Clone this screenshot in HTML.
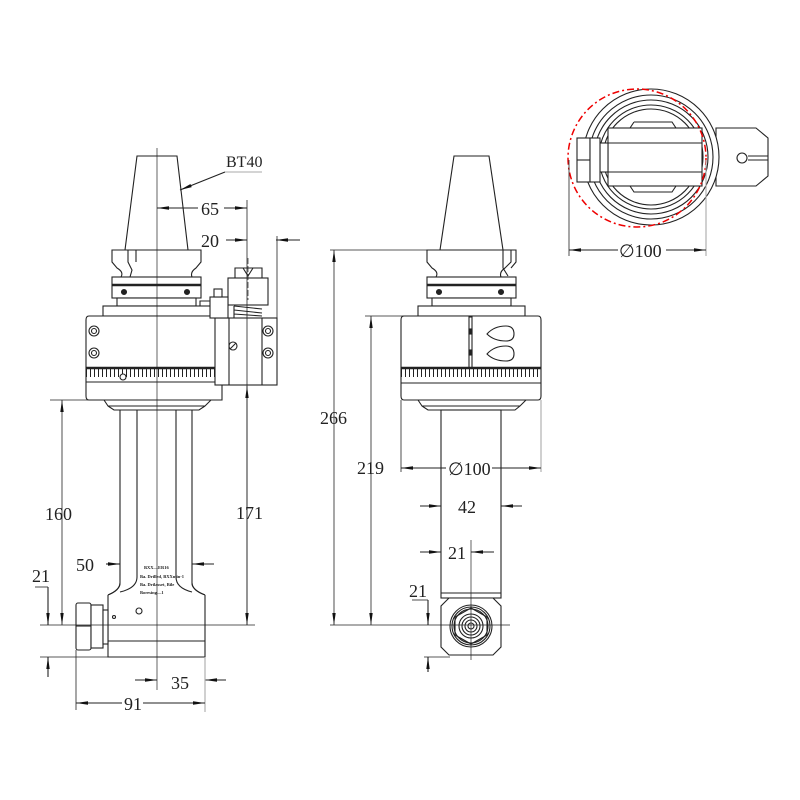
<!DOCTYPE html>
<html><head><meta charset="utf-8"><style>
html,body{margin:0;padding:0;background:#fff}
svg{display:block}
text{font-family:"Liberation Serif",serif;fill:#222}
</style></head><body>
<svg width="800" height="800" viewBox="0 0 800 800" xmlns="http://www.w3.org/2000/svg">
<defs>
<marker id="a" viewBox="0 0 12 6" refX="12" refY="3" markerWidth="12" markerHeight="6" orient="auto-start-reverse" markerUnits="userSpaceOnUse"><path d="M0,1.3 L12,3 L0,4.7z" fill="#111"/></marker>
</defs>
<g fill="none" stroke="#222" stroke-width="1.1">
<!-- ===== LEFT VIEW ===== -->
<path d="M137,156 L177,156 L188,250 L125,250 Z" fill="#fff"/>
<path d="M112,250 H201 V262 L196,268 Q190,272 192,277 H121 Q124,272 117,268 L112,262 Z" fill="#fff"/>
<path d="M128,250 V262 L132,270 L130,277 M136,250 V262"/>
<rect x="112" y="277" width="89" height="21" fill="#fff"/>
<line x1="112" y1="285" x2="201" y2="285" stroke-width="2.5"/>
<circle cx="124" cy="292" r="2.5" fill="#222"/><circle cx="187" cy="292" r="2.5" fill="#222"/>
<rect x="117" y="298" width="79" height="8" fill="#fff"/>
<rect x="103" y="306" width="112" height="10" fill="#fff"/>
<path d="M89,316 H222 V400 H89 Q86,400 86,396 V320 Q86,316 89,316 Z" fill="#fff"/>
<line x1="86" y1="368" x2="222" y2="368" stroke-width="2.5"/>
<line x1="86" y1="373" x2="222" y2="373" stroke-width="8" stroke-dasharray="1 3"/>
<line x1="86" y1="382" x2="222" y2="382"/>
<circle cx="123" cy="377" r="3" fill="#fff"/>
<path d="M104,400 L108,406 H205 L211,400 M108,406 L114,410 H199 L205,406"/>
<!-- column -->
<path d="M120,410 V583 Q120,590 108,595 M192,410 V583 Q192,590 205,595"/>
<path d="M137,410 V577 Q137,588 120,592 M176,410 V577 Q176,588 192,592"/>
<path d="M108,595 V657 H205 V595" fill="#fff"/>
<path d="M120,583 Q120,590 108,595 M192,583 Q192,590 205,595"/>
<line x1="108" y1="641" x2="205" y2="641"/>
<circle cx="139" cy="611" r="3"/>
<circle cx="114" cy="617" r="1.5"/>
<!-- nut -->
<rect x="76" y="603" width="15" height="47" rx="2" fill="#fff"/>
<rect x="91" y="605" width="12" height="43" fill="#fff"/>
<line x1="76" y1="626" x2="91" y2="626"/>
<rect x="103" y="610" width="5" height="34" fill="#fff"/>
<!-- bracket -->
<rect x="215" y="318" width="62" height="67" fill="#fff"/>
<line x1="229" y1="318" x2="229" y2="385"/><line x1="262" y1="318" x2="262" y2="385"/>
<circle cx="94" cy="331" r="5"/><circle cx="94" cy="331" r="2.5"/>
<circle cx="94" cy="353" r="5"/><circle cx="94" cy="353" r="2.5"/>
<circle cx="268" cy="331" r="5"/><circle cx="268" cy="331" r="2.5"/>
<circle cx="268" cy="353" r="5"/><circle cx="268" cy="353" r="2.5"/>
<circle cx="233" cy="346" r="4"/><line x1="230" y1="349" x2="236" y2="343"/>
<rect x="228" y="278" width="40" height="27" fill="#fff"/>
<path d="M235,268 H262 V278 H235 Z M243,268 L248,276 L253,268"/>
<path d="M234,306 L262,309 M234,310 L262,313 M234,314 L262,316 M234,306 V318"/>
<rect x="210" y="297" width="18" height="21" fill="#fff"/>
<rect x="214" y="289" width="8" height="8" fill="#fff"/>
<path d="M200,306 V301 H210"/>
<!-- centerline -->
<line x1="157" y1="148" x2="157" y2="690" stroke-width="0.7"/>
<line x1="248" y1="258" x2="248" y2="300" stroke-width="0.7" stroke-dasharray="6 2"/>
<!-- dims left -->
<line x1="180" y1="190" x2="225" y2="172" marker-start="url(#a)"/>
<line x1="225" y1="172" x2="262" y2="172" stroke="#aaa"/>
<line x1="157" y1="208" x2="198" y2="208" marker-start="url(#a)"/>
<line x1="224" y1="208" x2="247" y2="208" marker-end="url(#a)"/>
<line x1="247" y1="200" x2="247" y2="625" stroke-width="0.8"/>
<line x1="226" y1="240" x2="247" y2="240" marker-end="url(#a)"/>
<line x1="276" y1="240" x2="300" y2="240" marker-start="url(#a)"/>
<line x1="277" y1="236" x2="277" y2="318" stroke-width="0.8"/>
<line x1="247" y1="386" x2="247" y2="625" marker-start="url(#a)" marker-end="url(#a)" stroke-width="0.8"/>
<line x1="50" y1="400" x2="104" y2="400" stroke-width="0.8"/>
<line x1="40" y1="625" x2="255" y2="625" stroke-width="0.8"/>
<line x1="62" y1="400" x2="62" y2="625" marker-start="url(#a)" marker-end="url(#a)" stroke-width="0.8"/>
<line x1="35" y1="587" x2="48" y2="587" stroke-width="0.8"/>
<line x1="48" y1="587" x2="48" y2="625" marker-end="url(#a)"/>
<line x1="48" y1="657" x2="48" y2="677" marker-start="url(#a)"/>
<line x1="40" y1="657" x2="110" y2="657" stroke-width="0.8"/>
<line x1="106" y1="564" x2="120" y2="564" marker-end="url(#a)"/>
<line x1="192" y1="564" x2="214" y2="564" marker-start="url(#a)"/>
<line x1="135" y1="680" x2="157" y2="680" marker-end="url(#a)"/>
<line x1="205" y1="680" x2="226" y2="680" marker-start="url(#a)"/>
<line x1="76" y1="650" x2="76" y2="710" stroke-width="0.8"/>
<line x1="205" y1="657" x2="205" y2="712" stroke="#aaa"/>
<line x1="76" y1="703" x2="122" y2="703" marker-start="url(#a)"/>
<line x1="143" y1="703" x2="205" y2="703" marker-end="url(#a)"/>

<!-- ===== MIDDLE VIEW ===== -->
<path d="M454,156 L489,156 L503,250 L440,250 Z" fill="#fff"/>
<path d="M427,250 H511 V262 L505,268 Q499,272 501,277 H436 Q439,272 432,268 L427,262 Z" fill="#fff"/>
<path d="M503,250 V268 L508,276 M511,250 H516 V262 L511,268"/>
<rect x="427" y="277" width="89" height="21" fill="#fff"/>
<line x1="427" y1="285" x2="516" y2="285" stroke-width="2.5"/>
<circle cx="439" cy="292" r="2.5" fill="#222"/><circle cx="501" cy="292" r="2.5" fill="#222"/>
<rect x="432" y="298" width="79" height="8" fill="#fff"/>
<rect x="418" y="306" width="107" height="10" fill="#fff"/>
<path d="M404,316 H538 Q541,316 541,320 V396 Q541,400 538,400 H404 Q401,400 401,396 V320 Q401,316 404,316 Z" fill="#fff"/>
<rect x="469" y="317" width="3" height="51"/>
<rect x="469" y="329" width="3" height="5" fill="#222"/><rect x="469" y="350" width="3" height="5" fill="#222"/>
<path d="M487,334 Q494,326 506,326 Q514,326 514,334 Q514,341 506,341 Q494,341 487,334 Z"/>
<path d="M487,354 Q494,346 506,346 Q514,346 514,354 Q514,361 506,361 Q494,361 487,354 Z"/>
<line x1="401" y1="368" x2="541" y2="368" stroke-width="2.5"/>
<line x1="401" y1="373" x2="541" y2="373" stroke-width="8" stroke-dasharray="1 3"/>
<line x1="401" y1="383" x2="541" y2="383"/>
<path d="M418,400 L422,406 H520 L526,400 M422,406 L428,410 H515 L520,406"/>
<rect x="441" y="410" width="60" height="188" fill="#fff"/>
<line x1="441" y1="593" x2="501" y2="593"/>
<path d="M449,598 H493 L501,606 V647 L493,655 H449 L441,647 V606 Z" fill="#fff"/>
<circle cx="471" cy="626" r="21"/><circle cx="471" cy="626" r="19"/><circle cx="471" cy="626" r="17"/>
<circle cx="471" cy="626" r="12"/><circle cx="471" cy="626" r="9"/><circle cx="471" cy="626" r="6"/><circle cx="471" cy="626" r="3"/>
<path d="M471,608 L487,617 L487,635 L471,644 L455,635 L455,617 Z"/>
<line x1="471" y1="540" x2="471" y2="660" stroke-width="0.7"/>
<!-- dims middle -->
<line x1="330" y1="250" x2="440" y2="250" stroke-width="0.8"/>
<line x1="365" y1="316" x2="418" y2="316" stroke-width="0.8"/>
<line x1="330" y1="625" x2="510" y2="625" stroke-width="0.8"/>
<line x1="334" y1="250" x2="334" y2="625" marker-start="url(#a)" marker-end="url(#a)" stroke-width="0.8"/>
<line x1="371" y1="316" x2="371" y2="625" marker-start="url(#a)" marker-end="url(#a)" stroke-width="0.8"/>
<line x1="401" y1="400" x2="401" y2="472" stroke-width="0.8"/>
<line x1="541" y1="400" x2="541" y2="472" stroke="#aaa"/>
<line x1="401" y1="468" x2="446" y2="468" marker-start="url(#a)"/>
<line x1="492" y1="468" x2="541" y2="468" marker-end="url(#a)"/>
<line x1="420" y1="506" x2="441" y2="506" marker-end="url(#a)"/>
<line x1="501" y1="506" x2="522" y2="506" marker-start="url(#a)"/>
<line x1="420" y1="552" x2="441" y2="552" marker-end="url(#a)"/>
<line x1="471" y1="552" x2="494" y2="552" marker-start="url(#a)"/>
<line x1="412" y1="600" x2="428" y2="600" stroke-width="0.8"/>
<line x1="428" y1="600" x2="428" y2="625" marker-end="url(#a)"/>
<line x1="428" y1="657" x2="428" y2="672" marker-start="url(#a)"/>
<line x1="424" y1="657" x2="450" y2="657" stroke-width="0.8"/>

<!-- ===== TOP VIEW ===== -->
<path d="M716,128 H756 L768,138 V176 L756,186 H716 Z" fill="#fff"/>
<line x1="748" y1="156" x2="768" y2="156"/><line x1="748" y1="160" x2="768" y2="160"/>
<circle cx="742" cy="158" r="5" fill="#fff"/>
<circle cx="651" cy="157" r="68" fill="#fff"/>
<circle cx="651" cy="157" r="62"/>
<circle cx="651" cy="157" r="57"/>
<circle cx="651" cy="157" r="52"/>
<circle cx="651" cy="157" r="48"/>
<path d="M634,122 H672 L676,128 M634,122 L630,128 M630,186 L634,192 H672 L676,186"/>
<rect x="608" y="128" width="94" height="58" fill="#fff"/>
<line x1="608" y1="143" x2="702" y2="143"/><line x1="608" y1="172" x2="702" y2="172"/>
<rect x="600" y="143" width="8" height="29" fill="#fff"/>
<rect x="577" y="138" width="13" height="44" fill="#fff"/>
<rect x="590" y="138" width="10" height="44" fill="#fff"/>
<line x1="577" y1="160" x2="590" y2="160"/>
<circle cx="637" cy="158" r="69" stroke="#e00" stroke-width="1.5" stroke-dasharray="7 3 2 3"/>
<line x1="569" y1="160" x2="569" y2="256" stroke-width="0.8"/>
<line x1="706" y1="160" x2="706" y2="256" stroke="#aaa"/>
<line x1="569" y1="250" x2="618" y2="250" marker-start="url(#a)"/>
<line x1="666" y1="250" x2="706" y2="250" marker-end="url(#a)"/>
</g>
<g font-size="18">
<text x="226" y="167" font-family="Liberation Sans" font-size="16">BT40</text>
<text x="201" y="215">65</text>
<text x="201" y="247">20</text>
<text x="236" y="519">171</text>
<text x="45" y="520">160</text>
<text x="32" y="582">21</text>
<text x="76" y="571">50</text>
<text x="171" y="689">35</text>
<text x="124" y="710">91</text>
<text x="320" y="424">266</text>
<text x="357" y="474">219</text>
<text x="448" y="475">∅100</text>
<text x="458" y="513">42</text>
<text x="448" y="559">21</text>
<text x="409" y="597">21</text>
<text x="619" y="257">∅100</text>
</g>
<g font-family="Liberation Sans" font-size="4.5" font-weight="bold">
<text x="144" y="569">BXX—ER16</text>
<text x="140" y="578">Ba. Drilled, BXXmin-1</text>
<text x="140" y="586">Ba. Drilasset, Bile</text>
<text x="140" y="594">Boresing—1</text>
</g>
</svg>
</body></html>
